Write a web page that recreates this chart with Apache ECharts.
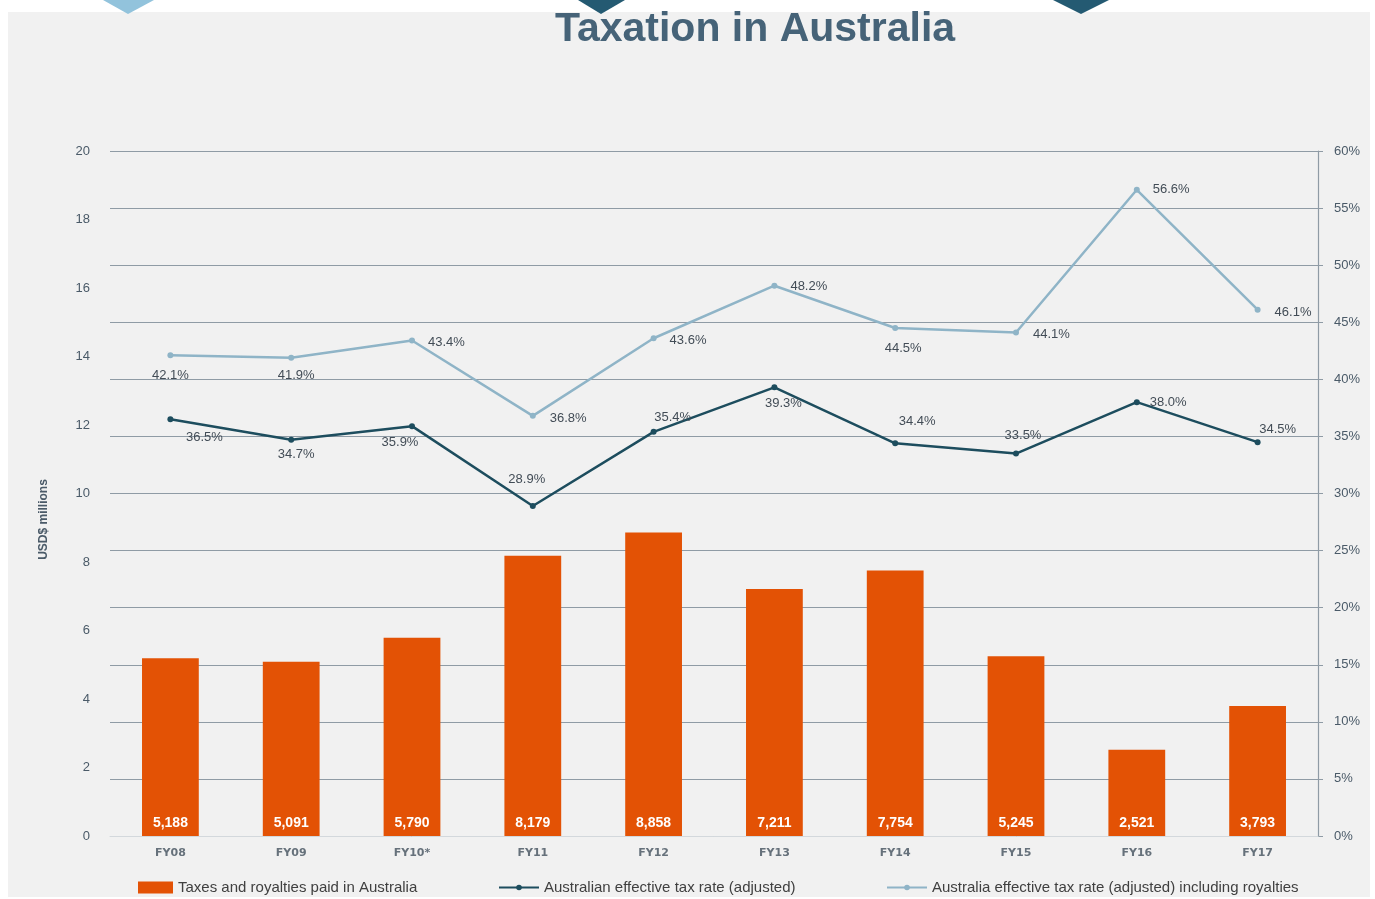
<!DOCTYPE html>
<html>
<head>
<meta charset="utf-8">
<title>Taxation in Australia</title>
<script src="https://cdn.jsdelivr.net/npm/echarts@6/dist/echarts.min.js"></script>
<style>
  html, body { margin: 0; padding: 0; background: #ffffff; }
  #chart { width: 1375px; height: 899px; }
</style>
</head>
<body>
<div id="chart"></div>
<script>
// data
const years = ['FY08', 'FY09', 'FY10*', 'FY11', 'FY12', 'FY13', 'FY14', 'FY15', 'FY16', 'FY17'];
const taxesPaid = [5188, 5091, 5790, 8179, 8858, 7211, 7754, 5245, 2521, 3793];
const effRate = [36.5, 34.7, 35.9, 28.9, 35.4, 39.3, 34.4, 33.5, 38.0, 34.5];
const effRateRoyalties = [42.1, 41.9, 43.4, 36.8, 43.6, 48.2, 44.5, 44.1, 56.6, 46.1];

const NAME_BAR = 'Taxes and royalties paid in Australia';
const NAME_EFF = 'Australian effective tax rate (adjusted)';
const NAME_ROY = 'Australia effective tax rate (adjusted) including royalties';

// where each line label sits (Excel placed them by hand)
const effLabelPos = [
  ['bottom', [34, 4]], ['bottom', [5, 0]], ['bottom', [-12, 2]], ['top', [-6, -12]], ['top', [19, 0]],
  ['bottom', [9, 2]], ['top', [22, -7]], ['top', [7, -4]], ['right', [5, 0]], ['top', [20, 2]]
];
const royLabelPos = [
  ['bottom', [0, 6]], ['bottom', [5, 3]], ['right', [8, 2]], ['right', [9, 3]], ['right', [8, 2]],
  ['right', [8, 1]], ['bottom', [8, 6]], ['right', [9, 2]], ['right', [8, 0]], ['right', [9, 3]]
];

const BAR = '#e35205';
const DARK = '#1d4d5e';
const LIGHT = '#8fb4c7';
const GRID = '#8f9ba5';
const AXIS_TXT = '#4a5a68';
const LBL_TXT = '#424c56';
const FONT = '"Liberation Sans", Arial, sans-serif';

const withLabels = (values, pos) => values.map((v, i) => ({
  value: v,
  label: { position: pos[i][0], offset: pos[i][1] }
}));

// one legend per item so each sits where the original puts it
const legendAt = (left, name, isBar) => ({
  left: left,
  top: 875,
  itemWidth: isBar ? 35 : 40,
  itemHeight: isBar ? 12 : 7,
  itemGap: 4,
  textStyle: { fontSize: 15, color: '#404040', fontFamily: FONT },
  data: [isBar ? { name: name, icon: 'rect' } : name]
});

const chart = echarts.init(document.getElementById('chart'));

const option = {
  backgroundColor: '#ffffff',
  textStyle: { fontFamily: FONT },
  graphic: [
    { type: 'rect', z: -10, shape: { x: 8, y: 12, width: 1362, height: 885 }, style: { fill: '#f1f1f1' } },
    { type: 'polygon', shape: { points: [[103, 0], [154, 0], [128, 14]] }, style: { fill: '#92c3dc' } },
    { type: 'polygon', shape: { points: [[578, 0], [625, 0], [601, 14]] }, style: { fill: '#245a72' } },
    { type: 'polygon', shape: { points: [[1053, 0], [1109, 0], [1081, 14]] }, style: { fill: '#245a72' } }
  ],
  title: {
    text: 'Taxation in Australia',
    left: 750,
    textAlign: 'center',
    top: 4,
    textStyle: { fontSize: 41, fontWeight: 'bold', color: '#466378', fontFamily: FONT }
  },
  legend: [
    legendAt(133, NAME_BAR, true),
    legendAt(493, NAME_EFF, false),
    legendAt(881, NAME_ROY, false)
  ],
  grid: { left: 110, right: 57, top: 151, bottom: 63, containLabel: false, outerBoundsMode: 'none' },
  xAxis: {
    type: 'category',
    data: years,
    axisLine: { show: true, lineStyle: { color: '#d3d8dc', width: 1 } },
    axisTick: { show: false },
    axisLabel: { margin: 12, fontSize: 11, fontWeight: 'bold', color: '#66717b', fontFamily: '"DejaVu Sans", sans-serif' },
    z: 5
  },
  yAxis: [
    {
      type: 'value',
      min: 0,
      max: 20000,
      interval: 2000,
      name: 'USD$ millions',
      nameLocation: 'middle',
      nameGap: 60,
      nameRotate: 90,
      nameTextStyle: { fontSize: 12, fontWeight: 'bold', color: AXIS_TXT, padding: [0, 0, 0, -52] },
      axisLine: { show: false },
      axisTick: { show: false },
      splitLine: { show: false },
      axisLabel: { margin: 20, fontSize: 13, color: AXIS_TXT, formatter: v => String(v / 1000) }
    },
    {
      type: 'value',
      min: 0,
      max: 60,
      interval: 5,
      position: 'right',
      axisLine: { show: true, lineStyle: { color: GRID, width: 1.2 } },
      axisTick: { show: true, inside: false, length: 5, lineStyle: { color: GRID } },
      splitLine: { show: true, lineStyle: { color: GRID, width: 1.2 } },
      axisLabel: { margin: 16, fontSize: 13, color: AXIS_TXT, formatter: v => v + '%' }
    }
  ],
  series: [
    {
      name: NAME_BAR,
      type: 'bar',
      yAxisIndex: 0,
      data: taxesPaid,
      barWidth: '47%',
      itemStyle: { color: BAR },
      label: {
        show: true,
        position: 'insideBottom',
        distance: 6,
        color: '#ffffff',
        fontSize: 14,
        fontWeight: 'bold',
        formatter: p => p.value.toLocaleString('en-US')
      },
      z: 2
    },
    {
      name: NAME_EFF,
      type: 'line',
      yAxisIndex: 1,
      data: withLabels(effRate, effLabelPos),
      symbol: 'circle',
      symbolSize: 6,
      lineStyle: { color: DARK, width: 2.5 },
      itemStyle: { color: DARK },
      label: { show: true, fontSize: 13, color: LBL_TXT, formatter: p => p.value.toFixed(1) + '%' },
      z: 4
    },
    {
      name: NAME_ROY,
      type: 'line',
      yAxisIndex: 1,
      data: withLabels(effRateRoyalties, royLabelPos),
      symbol: 'circle',
      symbolSize: 6,
      lineStyle: { color: LIGHT, width: 2.5 },
      itemStyle: { color: LIGHT },
      label: { show: true, fontSize: 13, color: LBL_TXT, formatter: p => p.value.toFixed(1) + '%' },
      z: 3
    }
  ]
};

chart.setOption(option);
window.addEventListener('resize', () => chart.resize());
</script>
</body>
</html>
